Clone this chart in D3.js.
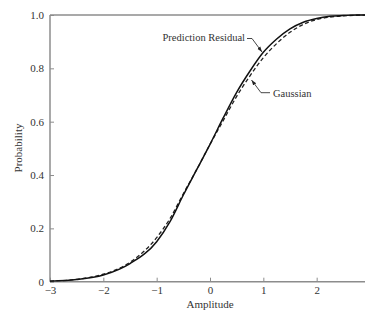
<!DOCTYPE html>
<html><head><meta charset="utf-8">
<script src="https://cdn.jsdelivr.net/npm/d3@7"></script>
<style>
html,body{margin:0;padding:0;background:#fff;}
svg{display:block;}
text{font-family:"Liberation Serif","Times New Roman",serif;fill:#333;}
</style></head>
<body>
<svg id="c" width="365" height="312"></svg>
<script>
const amplitude = [-3,-2.5,-2,-1.5,-1,-0.75,-0.5,-0.25,0,0.25,0.5,0.75,1,1.25,1.5,1.75,2,2.25,2.5,2.75,3];
const residual  = [0.002,0.008,0.025,0.068,0.15,0.225,0.325,0.42,0.515,0.615,0.71,0.79,0.86,0.91,0.948,0.973,0.987,0.995,0.998,1.0,1.0];
const gaussian  = [0.002,0.009,0.028,0.073,0.165,0.237,0.33,0.42,0.515,0.605,0.695,0.772,0.84,0.893,0.935,0.965,0.983,0.992,0.997,0.999,1.0];
const xTicks = [-3,-2,-1,0,1,2];
const yTicks = [0,0.2,0.4,0.6,0.8,1.0];
const yTickLabels = ["0","0.2","0.4","0.6","0.8","1.0"];

const svg = d3.select("#c");
const x = d3.scaleLinear().domain([-3,3]).range([50,370]);
const y = d3.scaleLinear().domain([0,1]).range([281.7,15]);
const axisCol = "#8c8c8c";

// frame: left, bottom, top
svg.append("line").attr("x1",x(-3)).attr("x2",x(-3)).attr("y1",y(0)).attr("y2",y(1)).attr("stroke",axisCol).attr("stroke-width",1.5);
svg.append("line").attr("x1",x(-3)).attr("x2",365).attr("y1",y(0)).attr("y2",y(0)).attr("stroke",axisCol).attr("stroke-width",1.5);
svg.append("line").attr("x1",x(-3)).attr("x2",365).attr("y1",y(1)).attr("y2",y(1)).attr("stroke",axisCol).attr("stroke-width",1.5);

// x axis ticks
const xa = svg.append("g").attr("transform",`translate(0,${y(0)})`)
  .call(d3.axisBottom(x).tickValues(xTicks).tickSizeInner(-4).tickSizeOuter(0).tickPadding(5)
    .tickFormat(d=>d<0?"\u2212"+(-d):String(d)));
xa.select(".domain").remove();
xa.selectAll(".tick line").attr("stroke",axisCol).attr("stroke-width",1);
xa.selectAll(".tick text").attr("font-size","11px").attr("font-family","Liberation Serif, serif").attr("fill","#444");

// y axis ticks
const ya = svg.append("g").attr("transform",`translate(${x(-3)},0)`)
  .call(d3.axisLeft(y).tickValues(yTicks).tickSizeInner(-4).tickSizeOuter(0).tickPadding(6)
    .tickFormat((d,i)=>yTickLabels[i]));
ya.select(".domain").remove();
ya.selectAll(".tick line").attr("stroke",axisCol).attr("stroke-width",1);
ya.selectAll(".tick text").attr("font-size","11px").attr("font-family","Liberation Serif, serif").attr("fill","#444");

// curves
const line = d3.line().x(d=>x(d[0])).y(d=>y(d[1])).curve(d3.curveMonotoneX);
svg.append("defs").append("clipPath").attr("id","cl").append("rect").attr("x",x(-3)).attr("y",0).attr("width",320).attr("height",y(0));
const g = svg.append("g").attr("clip-path","url(#cl)");
g.append("path").datum(amplitude.map((a,i)=>[a,gaussian[i]])).attr("d",line)
  .attr("fill","none").attr("stroke","#222").attr("stroke-width",1.3).attr("stroke-dasharray","4,2.5");
g.append("path").datum(amplitude.map((a,i)=>[a,residual[i]])).attr("d",line)
  .attr("fill","none").attr("stroke","#111").attr("stroke-width",1.5);

// annotations
const defs = svg.select("defs");
defs.append("marker").attr("id","ah").attr("viewBox","0 0 10 10").attr("refX",10).attr("refY",5)
  .attr("markerWidth",6).attr("markerHeight",6).attr("orient","auto-start-reverse")
  .append("path").attr("d","M0,1.5 L10,5 L0,8.5 Z").attr("fill","#222");

svg.append("text").attr("x",245).attr("y",41).attr("text-anchor","end").attr("font-size","10.5px").text("Prediction Residual");
svg.append("path").attr("d","M247,38.5 L252,38.5 L262,52").attr("fill","none").attr("stroke","#333").attr("stroke-width",0.9).attr("marker-end","url(#ah)");

svg.append("text").attr("x",273).attr("y",96.5).attr("font-size","10.5px").text("Gaussian");
svg.append("path").attr("d","M270,92.7 L261,92.7 L251.5,80").attr("fill","none").attr("stroke","#333").attr("stroke-width",0.9).attr("marker-end","url(#ah)");

// axis titles
svg.append("text").attr("x",x(0)).attr("y",308).attr("text-anchor","middle").attr("font-size","11px").text("Amplitude");
svg.append("text").attr("transform","translate(22,148) rotate(-90)").attr("text-anchor","middle").attr("font-size","11px").text("Probability");
</script>
</body></html>
